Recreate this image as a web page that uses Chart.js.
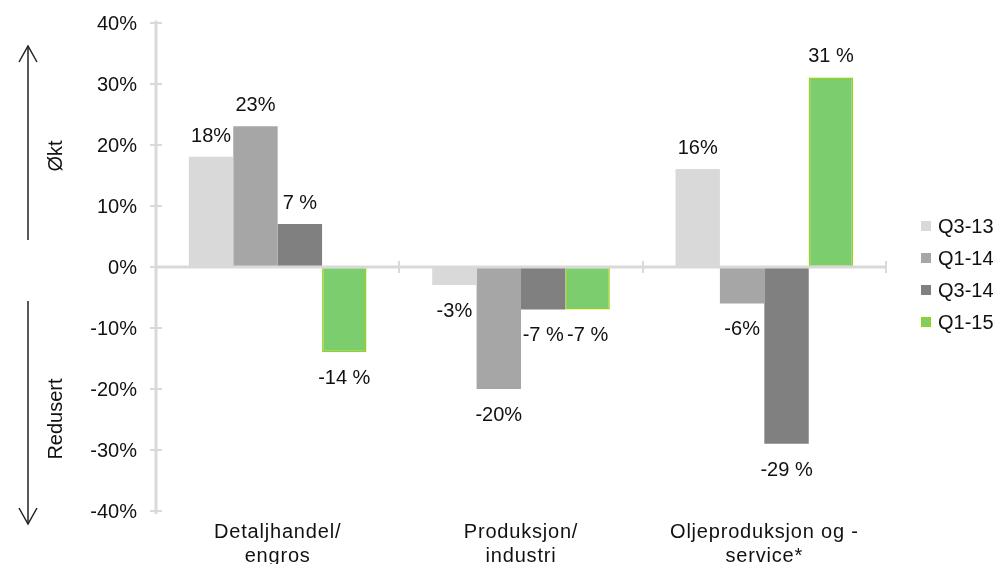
<!DOCTYPE html>
<html>
<head>
<meta charset="utf-8">
<script src="https://cdn.jsdelivr.net/npm/chart.js@4/dist/chart.umd.min.js"></script>
<style>
  html, body { margin: 0; padding: 0; background: #ffffff; overflow: hidden; }
  #wrap { position: absolute; left: 0; top: 0; width: 1000px; height: 564px; }
</style>
</head>
<body>
<div id="wrap"><canvas id="c"></canvas></div>
<script>
// Sectors (two-line labels)
const categories = [
  ["Detaljhandel/", "engros"],
  ["Produksjon/", "industri"],
  ["Oljeproduksjon og -", "service*"]
];

// Change per period, in percent
const seriesNames = ["Q3-13", "Q1-14", "Q3-14", "Q1-15"];
const q3_13 = [18, -3, 16];
const q1_14 = [23, -20, -6];
const q3_14 = [7, -7, -29];
const q1_15 = [-14, -7, 31];

// Value-label suffix per series
const labelSuffix = ["%", "%", " %", " %"];

// Y axis range and step
const yMin = -40;
const yMax = 40;
const yStep = 10;

const FONT = "'Liberation Sans', Arial, sans-serif";
const FONT_SIZE = 20;
const TEXT = "#111111";
const AXIS = "#d9d9d9";

const fills = ["#d9d9d9", "#a6a6a6", "#808080", "#7bcd6d"];
const borders = ["#d9d9d9", "#a6a6a6", "#808080", "#99d11a"];

const seriesValues = [q3_13, q1_14, q3_14, q1_15];

const datasets = seriesNames.map((name, i) => ({
  label: name,
  data: seriesValues[i],
  backgroundColor: fills[i],
  borderColor: borders[i],
  borderWidth: i === 3 ? 1.5 : 0,
  borderSkipped: false,
  categoryPercentage: 0.73,
  barPercentage: 1.0
}));

// Slightly wider spacing for the category captions under the axis
const captionSpacing = {
  id: "captionSpacing",
  beforeDraw(chart) { chart.ctx.letterSpacing = "0.8px"; },
  beforeDatasetsDraw(chart) { chart.ctx.letterSpacing = "0px"; }
};

// Gray axes with crossing tick marks; the x axis runs along zero.
// Value-axis labels are drawn here too, right-aligned next to each tick.
const axesPlugin = {
  id: "axes",
  afterDatasetsDraw(chart) {
    const { ctx, chartArea, scales } = chart;
    const y = scales.y;
    ctx.save();
    ctx.strokeStyle = AXIS;
    // vertical axis
    ctx.lineWidth = 3;
    ctx.beginPath();
    ctx.moveTo(chartArea.left, chartArea.top - 2);
    ctx.lineTo(chartArea.left, chartArea.bottom + 3);
    ctx.stroke();
    ctx.lineWidth = 2;
    ctx.font = FONT_SIZE + "px " + FONT;
    ctx.textAlign = "right";
    ctx.textBaseline = "middle";
    y.ticks.forEach(t => {
      const py = Math.round(y.getPixelForValue(t.value));
      ctx.beginPath();
      ctx.moveTo(chartArea.left - 6, py);
      ctx.lineTo(chartArea.left + 6, py);
      ctx.stroke();
      ctx.fillStyle = TEXT;
      ctx.fillText(t.value + "%", chartArea.left - 19, py + 1);
    });
    // horizontal axis at zero
    const y0 = Math.round(y.getPixelForValue(0));
    ctx.lineWidth = 3;
    ctx.beginPath();
    ctx.moveTo(chartArea.left, y0);
    ctx.lineTo(chartArea.right, y0);
    ctx.stroke();
    ctx.lineWidth = 2;
    const n = categories.length;
    const w = (chartArea.right - chartArea.left) / n;
    for (let i = 1; i <= n; i++) {
      const px = Math.round(chartArea.left + i * w);
      ctx.beginPath();
      ctx.moveTo(px, y0 - 6);
      ctx.lineTo(px, y0 + 6);
      ctx.stroke();
    }
    ctx.restore();
  }
};

// Value labels above positive bars and below negative ones
const valueLabels = {
  id: "valueLabels",
  afterDatasetsDraw(chart) {
    const { ctx } = chart;
    ctx.save();
    ctx.font = FONT_SIZE + "px " + FONT;
    ctx.fillStyle = TEXT;
    ctx.textAlign = "center";
    ctx.textBaseline = "alphabetic";
    chart.data.datasets.forEach((ds, di) => {
      const meta = chart.getDatasetMeta(di);
      meta.data.forEach((el, i) => {
        const v = ds.data[i];
        const txt = v + labelSuffix[di];
        if (v >= 0) {
          ctx.fillText(txt, el.x, el.y - 15);
        } else {
          ctx.fillText(txt, el.x, el.y + 32);
        }
      });
    });
    ctx.restore();
  }
};

// Direction arrows with "Økt" / "Redusert" in the left margin
function arrow(ctx, x, yFrom, yTo) {
  const dir = yTo < yFrom ? -1 : 1;
  ctx.beginPath();
  ctx.moveTo(x, yFrom);
  ctx.lineTo(x, yTo);
  ctx.stroke();
  ctx.beginPath();
  ctx.moveTo(x - 9, yTo - dir * 16);
  ctx.lineTo(x, yTo);
  ctx.lineTo(x + 9, yTo - dir * 16);
  ctx.stroke();
}

function verticalText(ctx, txt, cx, cy) {
  ctx.save();
  ctx.fillStyle = TEXT;
  ctx.font = FONT_SIZE + "px " + FONT;
  ctx.textAlign = "center";
  ctx.textBaseline = "middle";
  ctx.translate(cx, cy);
  ctx.rotate(-Math.PI / 2);
  ctx.fillText(txt, 0, 0);
  ctx.restore();
}

const sidePlugin = {
  id: "side",
  afterDraw(chart) {
    const { ctx } = chart;
    ctx.save();
    ctx.strokeStyle = "#222222";
    ctx.lineWidth = 1.5;
    arrow(ctx, 28, 240, 46);
    arrow(ctx, 28, 301, 524);
    ctx.restore();
    verticalText(ctx, "Økt", 56, 156);
    verticalText(ctx, "Redusert", 56, 419);
  }
};

// Legend on the right
const legendPlugin = {
  id: "sideLegend",
  afterDraw(chart) {
    const { ctx } = chart;
    ctx.save();
    ctx.font = FONT_SIZE + "px " + FONT;
    ctx.textBaseline = "middle";
    ctx.textAlign = "left";
    chart.data.datasets.forEach((ds, i) => {
      const cy = 226 + i * 32;
      ctx.fillStyle = ds.backgroundColor;
      ctx.fillRect(921, cy - 5, 10, 10);
      if (ds.borderWidth) {
        ctx.strokeStyle = ds.borderColor;
        ctx.lineWidth = 1.5;
        ctx.strokeRect(921.75, cy - 4.25, 8.5, 8.5);
      }
      ctx.fillStyle = TEXT;
      ctx.fillText(ds.label, 938, cy + 1);
    });
    ctx.restore();
  }
};

new Chart(document.getElementById("c"), {
  type: "bar",
  data: { labels: categories, datasets },
  options: {
    responsive: true,
    maintainAspectRatio: false,
    animation: false,
    layout: { padding: { top: 22.5, right: 114, bottom: 0, left: 0 } },
    plugins: {
      legend: { display: false },
      tooltip: { enabled: false }
    },
    scales: {
      x: {
        grid: { display: false, drawTicks: false },
        border: { display: false },
        ticks: {
          color: TEXT,
          font: { family: FONT, size: FONT_SIZE, lineHeight: 1.2 },
          padding: 9,
          maxRotation: 0,
          autoSkip: false
        },
        afterFit(scale) { scale.height = 53; }
      },
      y: {
        min: yMin,
        max: yMax,
        grid: { display: false, drawTicks: false },
        border: { display: false },
        ticks: {
          display: false,
          stepSize: yStep
        },
        afterFit(scale) { scale.width = 156; }
      }
    }
  },
  plugins: [captionSpacing, axesPlugin, valueLabels, sidePlugin, legendPlugin]
});
</script>
</body>
</html>
